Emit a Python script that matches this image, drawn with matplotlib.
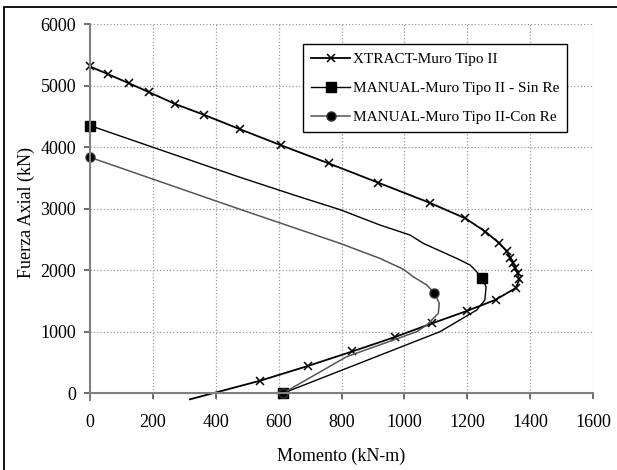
import matplotlib
matplotlib.use("Agg")
import matplotlib.pyplot as plt
from matplotlib.patches import Rectangle

# XTRACT - Muro Tipo II
xtract_m = [0, 58, 124, 189, 271, 364, 478, 608, 759, 917, 1080, 1194, 1258,
            1300, 1325, 1337, 1346, 1353, 1360, 1366, 1354, 1290, 1198, 1088,
            970, 834, 692, 541, 318]
xtract_p = [5310, 5183, 5037, 4890, 4700, 4522, 4289, 4029, 3737, 3422, 3097,
            2843, 2626, 2447, 2310, 2205, 2120, 2031, 1950, 1850, 1710, 1520,
            1337, 1137, 915, 680, 443, 205, -97]

# MANUAL - Muro Tipo II - Sin Re
sinre_m = [0, 477, 668, 795, 922, 1018, 1060, 1166, 1209, 1230, 1246, 1260,
           1256, 1230, 1113, 613]
sinre_p = [4350, 3510, 3190, 2985, 2735, 2572, 2437, 2193, 2085, 1976, 1868,
           1732, 1516, 1353, 1001, 0]

# MANUAL - Muro Tipo II - Con Re
conre_m = [0, 477, 795, 922, 997, 1028, 1071, 1095, 1111, 1108, 1071, 1039,
           816, 613]
conre_p = [3834, 2990, 2437, 2193, 2015, 1895, 1760, 1635, 1462, 1300, 1110,
           1001, 595, 0]

labels = ["XTRACT-Muro Tipo II", "MANUAL-Muro Tipo II - Sin Re",
          "MANUAL-Muro Tipo II-Con Re"]

plt.rcParams['font.family'] = ['Liberation Serif', 'DejaVu Serif']

fig = plt.figure(figsize=(6.17, 4.70), dpi=100)
ax = fig.add_axes([0.1459, 0.1487, 0.8152, 0.8002])

ax.plot(xtract_m, xtract_p, color='black', lw=1.3, marker='x', ms=6,
        mew=1.1, markevery=list(range(len(xtract_m) - 1)), label=labels[0],
        clip_on=False)
ax.plot(sinre_m, sinre_p, color='black', lw=1.0, marker='s', ms=7,
        markevery=[0, 10, len(sinre_m) - 1], label=labels[1], clip_on=False)
ax.plot(conre_m, conre_p, color='#555555', lw=1.1, marker='o', ms=6.5,
        mfc='black', mec='#333333', markevery=[0, 7, len(conre_m) - 1],
        label=labels[2], clip_on=False)

ax.set_xlim(0, 1600)
ax.set_ylim(-110, 6000)
ax.set_xticks(range(0, 1601, 200))
ax.set_yticks(range(0, 6001, 1000))

ax.spines['top'].set_visible(False)
ax.spines['right'].set_visible(False)
for s in ('left', 'bottom'):
    ax.spines[s].set_color('#808080')
    ax.spines[s].set_linewidth(1.5)
ax.spines['bottom'].set_position(('data', 0))

ax.tick_params(axis='x', direction='out', length=4, width=1.2, color='#555555',
               pad=11, labelsize=13)
ax.tick_params(axis='y', direction='out', length=4, width=1.2, color='#555555',
               pad=6, labelsize=13)

ax.grid(True, ls=':', color='#999999', lw=0.9)
ax.set_axisbelow(True)

ax.set_xlabel("Momento (kN-m)", fontsize=13, labelpad=12)
ax.set_ylabel("Fuerza Axial (kN)", fontsize=13, labelpad=4)

leg = ax.legend(loc='upper left', bbox_to_anchor=(0.4235, 0.947),
                borderaxespad=0, fancybox=False, edgecolor='black',
                framealpha=1, fontsize=11, handlelength=2.5,
                labelspacing=1.0, borderpad=0.55, handletextpad=0.2)
leg.get_frame().set_linewidth(1.0)

fig.add_artist(Rectangle((0.0057, -0.02), 1.1, 0.005 + 1.0 - 7.0 / 470 + 0.015,
                         transform=fig.transFigure, fill=False, lw=1.3,
                         color='black'))

fig.savefig("out.png", dpi=100)
